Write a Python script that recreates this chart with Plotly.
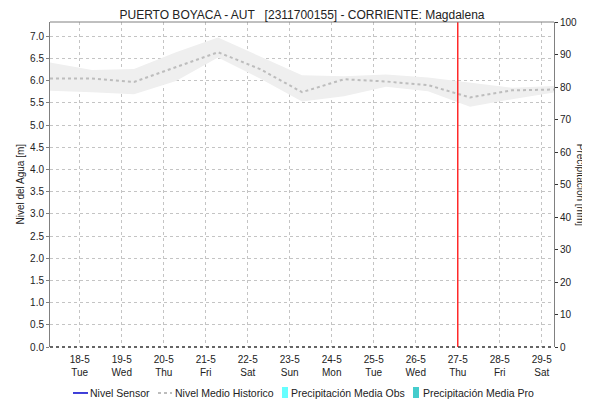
import plotly.graph_objects as go

# ---- data ----
dates = ["2021-05-17 07:00", "2021-05-18 07:00", "2021-05-19 07:00", "2021-05-20 07:00",
         "2021-05-21 07:00", "2021-05-22 07:00", "2021-05-23 07:00", "2021-05-24 07:00",
         "2021-05-25 07:00", "2021-05-26 07:00", "2021-05-27 07:00", "2021-05-28 07:00",
         "2021-05-29 07:00"]
nivel_medio = [6.05, 6.05, 5.97, 6.31, 6.64, 6.26, 5.74, 6.03, 5.98, 5.90, 5.62, 5.78, 5.80]
banda_sup = [6.41, 6.24, 6.26, 6.64, 6.97, 6.55, 6.12, 6.10, 6.14, 6.07, 5.95, 5.84, 5.88]
banda_inf = [5.77, 5.74, 5.69, 5.99, 6.52, 6.05, 5.53, 5.65, 5.86, 5.76, 5.41, 5.58, 5.73]
nivel_sensor = [None] * 13
precip_obs = [0] * 13
precip_pro = [0] * 13
tick_vals = ["2021-05-%02d" % d for d in range(18, 30)]
tick_text = ["18-5<br>Tue", "19-5<br>Wed", "20-5<br>Thu", "21-5<br>Fri", "22-5<br>Sat",
             "23-5<br>Sun", "24-5<br>Mon", "25-5<br>Tue", "26-5<br>Wed", "27-5<br>Thu",
             "28-5<br>Fri", "29-5<br>Sat"]
ahora = "2021-05-27 00:00"
x_range = ["2021-05-17 07:00", "2021-05-29 07:00"]
serie_nombres = ["Nivel Sensor", "Nivel Medio Historico",
                 "Precipitación Media Obs", "Precipitación Media Pro"]
serie_colores = ["#0000CC", "#BDBDBD", "#66FFFF", "#44CCCC"]

FONT = "Liberation Sans, Arial, sans-serif"

fig = go.Figure()
fig.add_trace(go.Scatter(x=dates, y=banda_sup, mode="lines", line=dict(width=0),
                         showlegend=False, hoverinfo="skip"))
fig.add_trace(go.Scatter(x=dates, y=banda_inf, mode="lines", line=dict(width=0),
                         fill="tonexty", fillcolor="rgb(239,239,239)",
                         showlegend=False, hoverinfo="skip"))
fig.add_trace(go.Scatter(x=dates, y=nivel_sensor, mode="lines", name=serie_nombres[0],
                         line=dict(color=serie_colores[0], width=1.5)))
fig.add_trace(go.Scatter(x=dates, y=nivel_medio, mode="lines", name=serie_nombres[1],
                         line=dict(color=serie_colores[1], width=2, dash="dot")))
fig.add_trace(go.Bar(x=dates, y=precip_obs, name=serie_nombres[2],
                     marker=dict(color=serie_colores[2], line=dict(width=0)), yaxis="y2"))
fig.add_trace(go.Bar(x=dates, y=precip_pro, name=serie_nombres[3],
                     marker=dict(color=serie_colores[3], line=dict(width=0)), yaxis="y2"))

# current-time marker, bottom dotted axis line, top border
fig.add_shape(type="line", xref="x", yref="paper", x0=ahora, x1=ahora, y0=0, y1=1,
              line=dict(color="#FF2A2A", width=1.5))
fig.add_shape(type="line", xref="paper", yref="paper", x0=0, x1=1, y0=0, y1=0,
              line=dict(color="#333333", width=1.5, dash="dot"))
fig.add_shape(type="line", xref="paper", yref="paper", x0=0, x1=1, y0=1, y1=1,
              line=dict(color="#808080", width=1))

# ---- legend (drawn below the plot) ----
LEG_Y = -0.1415
leg_font = dict(size=10.5, color="#222222", family=FONT)
fig.add_shape(type="line", xref="paper", yref="paper", x0=0.0456, x1=0.0754,
              y0=LEG_Y, y1=LEG_Y, line=dict(color=serie_colores[0], width=1.5))
fig.add_shape(type="line", xref="paper", yref="paper", x0=0.2143, x1=0.2421,
              y0=LEG_Y, y1=LEG_Y, line=dict(color=serie_colores[1], width=2, dash="dot"))
fig.add_shape(type="rect", xref="paper", yref="paper", x0=0.4603, x1=0.4722,
              y0=-0.1569, y1=-0.1231, line=dict(width=0), fillcolor=serie_colores[2])
fig.add_shape(type="rect", xref="paper", yref="paper", x0=0.7202, x1=0.7321,
              y0=-0.1569, y1=-0.1231, line=dict(width=0), fillcolor=serie_colores[3])
for nombre, xt in zip(serie_nombres, [0.0794, 0.248, 0.4782, 0.7401]):
    fig.add_annotation(text=nombre, xref="paper", yref="paper", x=xt, y=LEG_Y,
                       xanchor="left", yanchor="middle", showarrow=False,
                       font=leg_font, xshift=-2)

fig.update_layout(
    width=582, height=395,
    margin=dict(l=42, r=36, t=14, b=56, autoexpand=False),
    paper_bgcolor="white", plot_bgcolor="white",
    font=dict(family=FONT, size=10, color="#222222"),
    title=dict(text="PUERTO BOYACA - AUT   [2311700155] - CORRIENTE: Magdalena",
               x=0.5, xanchor="center", xref="paper",
               y=0.984, yanchor="middle",
               font=dict(size=12, color="#222222")),
    showlegend=False,
    bargap=0.2,
    xaxis=dict(type="date", range=x_range, tickvals=tick_vals, ticktext=tick_text,
               showgrid=True, gridcolor="#C4C4C4", griddash="dot", gridwidth=1,
               showline=False, ticks="outside", ticklen=3, tickcolor="rgba(0,0,0,0)",
               zeroline=False, automargin=False, tickfont=dict(size=10)),
    yaxis=dict(range=[0, 7.32], dtick=0.5, tick0=0, tickformat=".1f",
               showgrid=True, gridcolor="#C4C4C4", griddash="dot", gridwidth=1,
               showline=True, linecolor="#808080", linewidth=1, automargin=False,
               ticks="outside", ticklen=3, tickcolor="#808080", zeroline=False,
               tickfont=dict(size=10)),
    yaxis2=dict(range=[0, 100], dtick=10, overlaying="y", side="right",
                showgrid=False, showline=True, linecolor="#808080", linewidth=1,
                ticks="outside", ticklen=3, tickcolor="#333333", zeroline=False,
                automargin=False, tickfont=dict(size=10)),
)

fig.add_annotation(text="Nivel del Agua [m]", xref="paper", yref="paper",
                   x=-0.0595, y=0.5, xanchor="center", yanchor="middle",
                   textangle=-90, showarrow=False, font=dict(size=10, color="#222222"))
fig.add_annotation(text="Precipitación [mm]", xref="paper", yref="paper",
                   x=1.053, y=0.5, xanchor="center", yanchor="middle",
                   textangle=90, showarrow=False, font=dict(size=10, color="#222222"))

fig.write_html("out.html")
